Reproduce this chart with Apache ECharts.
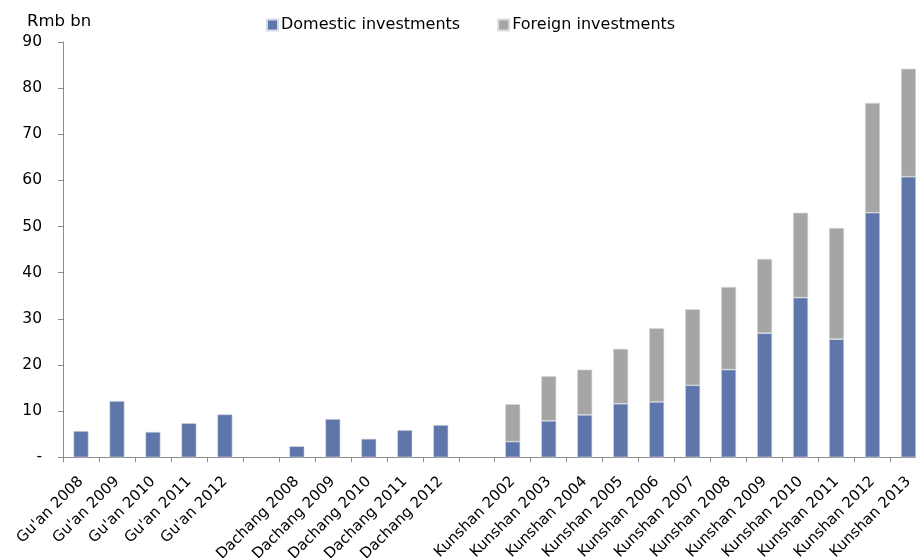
<!DOCTYPE html>
<html>
<head>
<meta charset="utf-8">
<script src="https://cdn.jsdelivr.net/npm/echarts@6/dist/echarts.min.js"></script>
<style>
  html, body { margin: 0; padding: 0; background: #fff; }
  #chart { width: 916px; height: 558px; }
</style>
</head>
<body>
<div id="chart"></div>
<script>
// Investment by town and year (Rmb bn); empty strings are spacer slots between towns
const categories = [
  "Gu'an 2008", "Gu'an 2009", "Gu'an 2010", "Gu'an 2011", "Gu'an 2012", "",
  "Dachang 2008", "Dachang 2009", "Dachang 2010", "Dachang 2011", "Dachang 2012", "",
  "Kunshan 2002", "Kunshan 2003", "Kunshan 2004", "Kunshan 2005", "Kunshan 2006", "Kunshan 2007",
  "Kunshan 2008", "Kunshan 2009", "Kunshan 2010", "Kunshan 2011", "Kunshan 2012", "Kunshan 2013"
];
const domestic = [
  5.7, 12.2, 5.5, 7.4, 9.3, null,
  2.4, 8.3, 4.0, 5.9, 7.0, null,
  3.4, 7.9, 9.2, 11.6, 12.0, 15.6, 19.0, 26.9, 34.6, 25.6, 53.0, 60.8
];
const foreign = [
  null, null, null, null, null, null,
  null, null, null, null, null, null,
  8.1, 9.7, 9.8, 11.9, 16.0, 16.5, 17.9, 16.1, 18.4, 24.1, 23.8, 23.4
];
const yTicks = [0, 10, 20, 30, 40, 50, 60, 70, 80, 90];

const FONT = "'DejaVu Sans', Verdana, sans-serif";
const chart = echarts.init(document.getElementById('chart'), null, { renderer: 'canvas' });

chart.setOption({
  animation: false,
  textStyle: { fontFamily: FONT, color: '#000' },
  grid: {
    left: 63, right: -10.5, top: 42, bottom: 100.7,
    containLabel: false, outerBoundsMode: 'none'
  },
  legend: {
    left: 261, top: 12,
    itemWidth: 11, itemHeight: 11, itemGap: 37,
    icon: 'rect',
    textStyle: { fontFamily: FONT, fontSize: 16, color: '#000', padding: [0, 0, 0, -2] },
    data: ['Domestic investments', 'Foreign investments']
  },
  title: {
    text: 'Rmb bn', left: 22, top: 8,
    textStyle: { fontFamily: FONT, fontSize: 16.5, fontWeight: 'normal', color: '#000' }
  },
  xAxis: {
    type: 'category',
    data: categories,
    axisLine: { lineStyle: { color: '#8c8c8c', width: 1 } },
    axisTick: { show: true, alignWithLabel: false, length: 5, lineStyle: { color: '#8c8c8c' } },
    axisLabel: {
      interval: 0, rotate: 45, fontSize: 15, color: '#000', fontFamily: FONT,
      margin: 22
    },
    splitLine: { show: false }
  },
  yAxis: {
    type: 'value',
    min: yTicks[0], max: yTicks[yTicks.length - 1], interval: 10,
    axisLine: { show: true, lineStyle: { color: '#8c8c8c', width: 1 } },
    axisTick: { show: true, inside: false, length: 5, lineStyle: { color: '#8c8c8c' } },
    axisLabel: {
      fontSize: 15.5, color: '#000', fontFamily: FONT, margin: 21,
      formatter: v => (v === 0 ? '-' : String(v))
    },
    splitLine: { show: false }
  },
  series: [
    {
      name: 'Domestic investments', type: 'bar', stack: 'total',
      data: domestic, barWidth: 15,
      itemStyle: { color: '#5e76a9', borderColor: '#d6dbe8', borderWidth: 0.6 }
    },
    {
      name: 'Foreign investments', type: 'bar', stack: 'total',
      data: foreign, barWidth: 15,
      itemStyle: { color: '#a5a5a5', borderColor: '#dcdcdc', borderWidth: 0.6 }
    }
  ]
});
</script>
</body>
</html>
